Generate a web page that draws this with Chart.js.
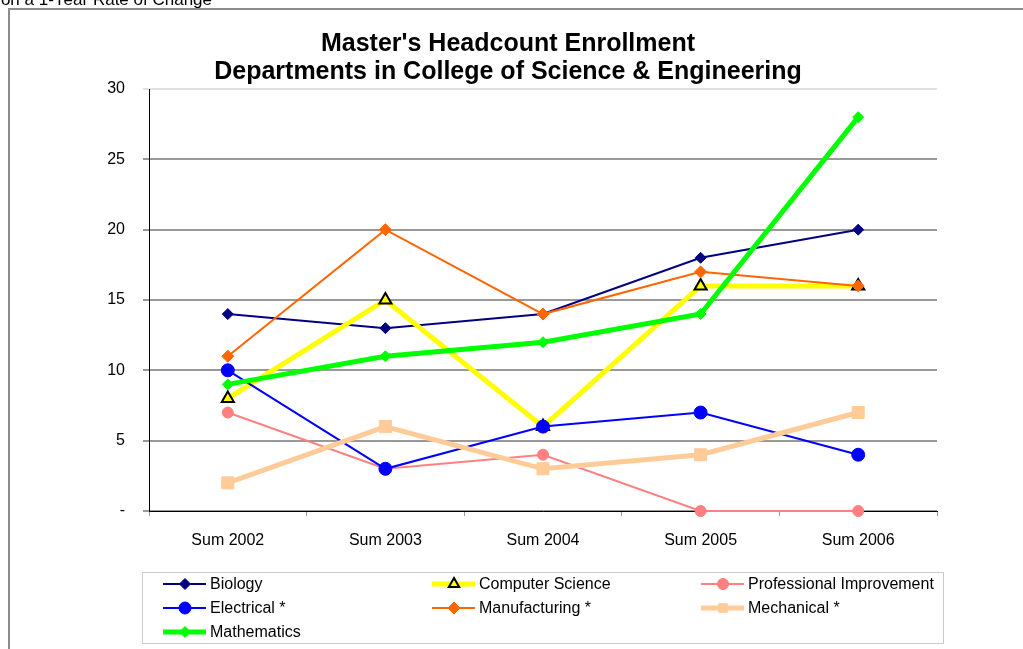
<!DOCTYPE html>
<html>
<head>
<meta charset="utf-8">
<script src="https://cdn.jsdelivr.net/npm/chart.js@4.4.1/dist/chart.umd.min.js"></script>
<style>
  html, body { margin: 0; padding: 0; background: #fff; }
  canvas { display: block; }
</style>
</head>
<body>
<canvas id="chart" width="1023" height="649"></canvas>
<script>
// data
const terms = ['Sum 2002', 'Sum 2003', 'Sum 2004', 'Sum 2005', 'Sum 2006'];
const biology = [14, 13, 14, 18, 20];
const computerScience = [8, 15, 6, 16, 16];
const profImprovement = [7, 3, 4, 0, 0];
const electrical = [10, 3, 6, 7, 4];
const manufacturing = [11, 20, 14, 17, 16];
const mechanical = [2, 6, 3, 4, 7];
const mathematics = [9, 11, 12, 14, 28];

const titleLines = ["Master's Headcount Enrollment", 'Departments in College of Science & Engineering'];
const FONT = 'Arial, "Liberation Sans", sans-serif';

function series(label, data, color, width, style, radius, fill, border) {
  return {
    label,
    data,
    borderColor: color,
    backgroundColor: color,
    borderWidth: width,
    pointStyle: style,
    pointRadius: radius,
    pointHoverRadius: radius,
    pointBackgroundColor: fill || color,
    pointBorderColor: border || color,
    pointBorderWidth: border ? 2 : 1,
    tension: 0,
    clip: false
  };
}

const datasets = [
  series('Biology', biology, '#000080', 2, 'rectRot', 5.5),
  series('Computer Science', computerScience, '#FFFF00', 5, 'triangle', 7, '#FFFF00', '#000000'),
  series('Professional Improvement', profImprovement, '#FF8080', 2, 'circle', 5.5),
  series('Electrical *', electrical, '#0000FF', 2, 'circle', 6.5),
  series('Manufacturing *', manufacturing, '#FF6600', 2, 'rectRot', 6),
  series('Mechanical *', mechanical, '#FFCC99', 5, 'rect', 8.5),
  series('Mathematics', mathematics, '#00FF00', 5, 'rectRot', 5.5)
];
// excel draws later series on top
datasets.forEach((d, i) => { d.order = datasets.length - i; });

// frame, title, legend
const decor = {
  id: 'decor',
  beforeDraw(chart) {
    const ctx = chart.ctx;
    ctx.save();
    ctx.fillStyle = '#000';
    ctx.font = '17px ' + FONT;
    ctx.textAlign = 'right';
    ctx.textBaseline = 'alphabetic';
    ctx.fillText('on a 1-Year Rate of Change', 212, 5);
    ctx.strokeStyle = '#8c8c8c';
    ctx.lineWidth = 2;
    ctx.beginPath();
    ctx.moveTo(9, 649);
    ctx.lineTo(9, 9);
    ctx.lineTo(1023, 9);
    ctx.stroke();
    ctx.restore();
  },
  afterDraw(chart) {
    const ctx = chart.ctx;
    ctx.save();
    ctx.fillStyle = '#000';
    ctx.font = 'bold 25px ' + FONT;
    ctx.textAlign = 'center';
    ctx.textBaseline = 'middle';
    ctx.fillText(titleLines[0], 508, 44);
    ctx.fillText(titleLines[1], 508, 72);

    // legend box
    ctx.strokeStyle = '#cccccc';
    ctx.lineWidth = 1;
    ctx.strokeRect(142.5, 572.5, 801, 71);
    const cols = [163, 432, 701];
    const rows = [584, 608, 632];
    ctx.font = '16px ' + FONT;
    ctx.textAlign = 'left';
    chart.data.datasets.forEach((ds, i) => {
      const x = cols[i % 3];
      const y = rows[Math.floor(i / 3)];
      ctx.strokeStyle = ds.borderColor;
      ctx.lineWidth = ds.borderWidth;
      ctx.beginPath();
      ctx.moveTo(x, y);
      ctx.lineTo(x + 43, y);
      ctx.stroke();
      ctx.fillStyle = ds.pointBackgroundColor;
      ctx.strokeStyle = ds.pointBorderColor;
      ctx.lineWidth = ds.pointBorderWidth;
      Chart.helpers.drawPoint(ctx, {
        pointStyle: ds.pointStyle,
        radius: Math.min(ds.pointRadius, 6),
        rotation: 0,
        borderWidth: ds.pointBorderWidth
      }, x + 22, y);
      ctx.fillStyle = '#000';
      ctx.fillText(ds.label, x + 47, y + 1);
    });
    ctx.restore();
  }
};

new Chart(document.getElementById('chart'), {
  type: 'line',
  data: { labels: terms, datasets },
  options: {
    responsive: false,
    animation: false,
    layout: { padding: { left: 0, top: 89, right: 86, bottom: 78 } },
    plugins: {
      legend: { display: false },
      title: { display: false },
      tooltip: { enabled: false }
    },
    scales: {
      x: {
        offset: true,
        afterFit(scale) { scale.height = 60; },
        grid: {
          offset: true,
          drawOnChartArea: false,
          drawTicks: true,
          tickLength: 5,
          color: '#999999'
        },
        border: { color: '#000000', width: 1 },
        ticks: {
          color: '#000',
          font: { family: FONT, size: 16 },
          padding: 15,
          maxRotation: 0
        }
      },
      y: {
        min: 0,
        max: 30,
        afterFit(scale) { scale.width = 149; },
        grid: {
          color: ctx => ctx.tick && ctx.tick.value === 30 ? '#e0e0e0' : '#999999',
          lineWidth: 2,
          tickLength: 6
        },
        border: { color: '#000000', width: 1 },
        ticks: {
          stepSize: 5,
          color: '#000',
          font: { family: FONT, size: 16 },
          padding: 18,
          callback: v => v === 0 ? '-' : v
        }
      }
    }
  },
  plugins: [decor]
});
</script>
</body>
</html>
